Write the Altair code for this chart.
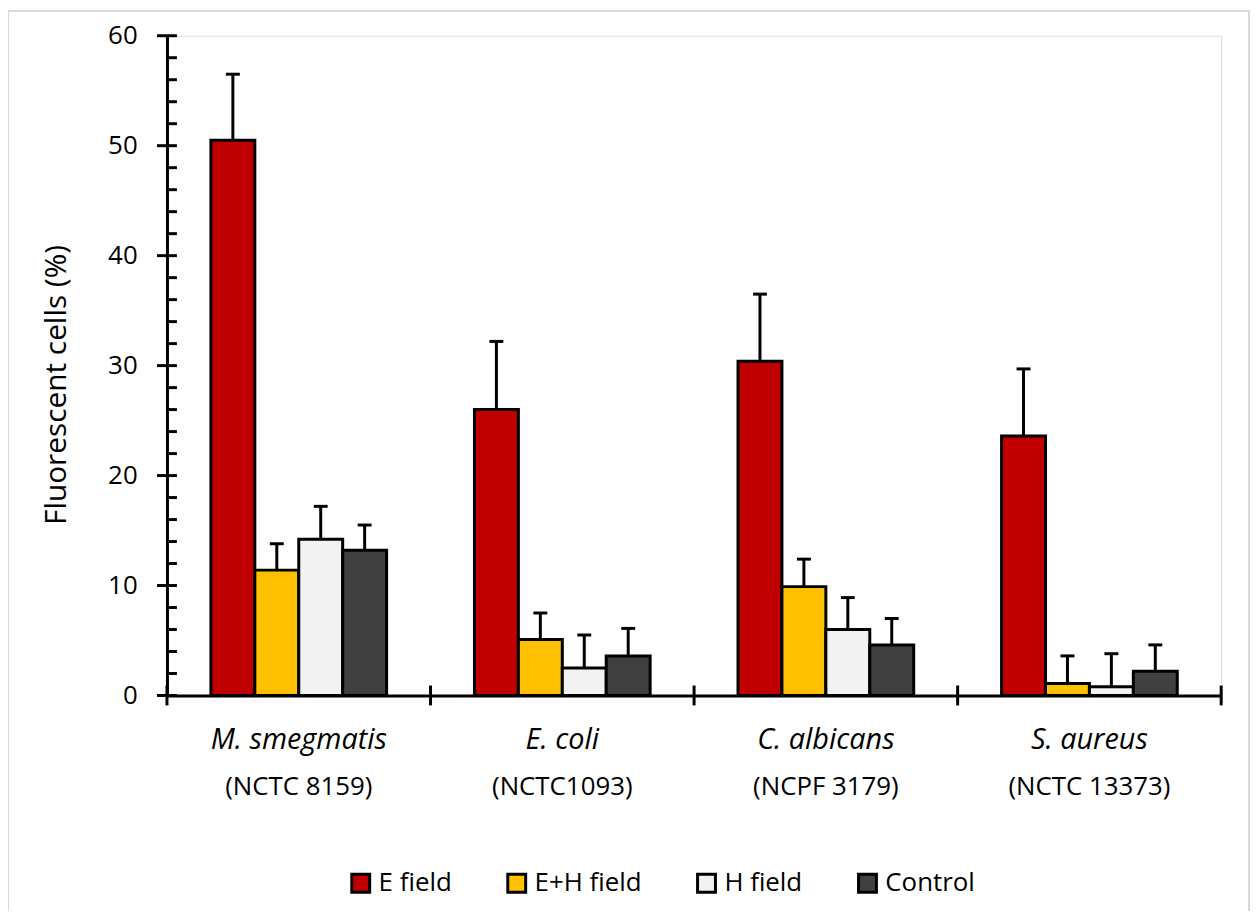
import altair as alt
import pandas as pd

species = ["M. smegmatis", "E. coli", "C. albicans", "S. aureus"]
strains = ["(NCTC 8159)", "(NCTC1093)", "(NCPF 3179)", "(NCTC 13373)"]
series = ["E field", "E+H field", "H field", "Control"]
colors = ["#C00000", "#FFC000", "#F2F2F2", "#404040"]

e_field = [50.5, 26.0, 30.4, 23.6]
eh_field = [11.4, 5.1, 9.9, 1.1]
h_field = [14.2, 2.5, 6.0, 0.8]
control = [13.2, 3.6, 4.6, 2.2]

e_field_err = [6.0, 6.2, 6.1, 6.1]
eh_field_err = [2.4, 2.4, 2.5, 2.5]
h_field_err = [3.0, 3.0, 2.9, 3.0]
control_err = [2.3, 2.5, 2.4, 2.4]

major_ticks = [0, 10, 20, 30, 40, 50, 60]
minor_ticks = [2, 4, 6, 8, 12, 14, 16, 18, 22, 24, 26, 28, 32, 34, 36, 38,
               42, 44, 46, 48, 52, 54, 56, 58]

means = [e_field, eh_field, h_field, control]
errs = [e_field_err, eh_field_err, h_field_err, control_err]
rows = []
for s, m, e in zip(series, means, errs):
    for c, v, d in zip(species, m, e):
        rows.append({"category": c, "series": s, "mean": v, "top": v + d})
df = pd.DataFrame(rows)
labels_df = pd.DataFrame({"category": species, "strain": strains})
last_df = pd.DataFrame({"category": species[-1:]})
major_df = pd.DataFrame({"mean": major_ticks})
minor_df = pd.DataFrame({"mean": minor_ticks})
frame_df = pd.DataFrame({"a": [0]})

FONT = "Open Sans"
H = 664

x_scale = alt.Scale(domain=species, paddingInner=0, paddingOuter=0)
x_axis = alt.Axis(labels=False, title=None, ticks=False, domainWidth=3,
                  domainColor="black", grid=False, zindex=1)
x_enc = alt.X("category:N", sort=species, scale=x_scale, axis=x_axis)
y_scale = alt.Scale(domain=[0, 60], nice=False)
y_axis = alt.Axis(values=major_ticks, ticks=False, labelPadding=30,
                  domainWidth=3, domainColor="black", labelFontSize=26,
                  labelFont=FONT, labelColor="black",
                  title="Fluorescent cells (%)", titleFont=FONT,
                  titleFontSize=30, titleFontWeight="normal",
                  titleColor="black", titlePadding=36, titleY=351,
                  grid=False, zindex=1)
xoff = alt.XOffset("series:N", sort=series,
                   scale=alt.Scale(paddingInner=0,
                                   paddingOuter=alt.ExprRef(expr="1.084")))

frame = alt.Chart(frame_df).mark_rect(fill="white", fillOpacity=0,
                                      stroke="#D9D9D9",
                                      strokeWidth=2).encode(
    x=alt.value(-160), x2=alt.value(1089), y=alt.value(-25), y2=alt.value(905)
)

rules = alt.Chart(df).mark_rule(color="black", strokeWidth=3).encode(
    x=x_enc, xOffset=xoff,
    y=alt.Y("mean:Q", scale=y_scale, axis=y_axis), y2="top:Q",
)

bars = alt.Chart(df).mark_bar(stroke="black", strokeWidth=3).encode(
    x=x_enc, xOffset=xoff,
    y=alt.Y("mean:Q", scale=y_scale, axis=y_axis),
    color=alt.Color(
        "series:N", sort=series,
        scale=alt.Scale(domain=series, range=colors),
        legend=alt.Legend(orient="none", legendX=182, legendY=840,
                          direction="horizontal", title=None,
                          symbolType="square", symbolSize=324,
                          symbolStrokeColor="black", symbolStrokeWidth=3,
                          labelFontSize=26, labelFont=FONT, labelOffset=5,
                          columnPadding=50, labelColor="black", padding=0),
    ),
)

caps = alt.Chart(df).mark_tick(color="black", thickness=3, size=14,
                               opacity=1).encode(
    x=x_enc, xOffset=xoff,
    y=alt.Y("top:Q", scale=y_scale, axis=y_axis),
)

xticks = alt.Chart(labels_df).mark_rule(color="black", strokeWidth=3).encode(
    x=alt.X("category:N", sort=species, scale=x_scale, axis=x_axis,
            bandPosition=0),
    y=alt.value(H - 10), y2=alt.value(H + 10),
)
xtick_end = alt.Chart(last_df).mark_rule(color="black", strokeWidth=3).encode(
    x=alt.X("category:N", sort=species, scale=x_scale, axis=x_axis,
            bandPosition=1),
    y=alt.value(H - 10), y2=alt.value(H + 10),
)

major = alt.Chart(major_df).mark_tick(color="black", thickness=3, size=20,
                                      opacity=1).encode(
    x=alt.value(0), y=alt.Y("mean:Q", scale=y_scale, axis=y_axis)
)
minor = alt.Chart(minor_df).mark_tick(color="black", thickness=3, size=10,
                                      opacity=1).encode(
    x=alt.value(5), y=alt.Y("mean:Q", scale=y_scale, axis=y_axis)
)

sp_text = alt.Chart(labels_df).mark_text(
    font=FONT, fontSize=29, fontStyle="italic", baseline="middle", color="black"
).encode(x=x_enc, y=alt.value(709), text="category:N")

st_text = alt.Chart(labels_df).mark_text(
    font=FONT, fontSize=26, baseline="middle", color="black"
).encode(x=x_enc, y=alt.value(756), text="strain:N")

chart = alt.layer(frame, rules, bars, caps, xticks, xtick_end, major, minor,
                  sp_text, st_text).properties(
    width=1061, height=H,
    autosize=alt.AutoSizeParams(type="none"),
    padding={"left": 160, "top": 25, "right": 30, "bottom": 214},
).configure_view(strokeWidth=0).configure(font=FONT)

chart.save("out.html", embed_options={"renderer": "svg", "actions": False})
